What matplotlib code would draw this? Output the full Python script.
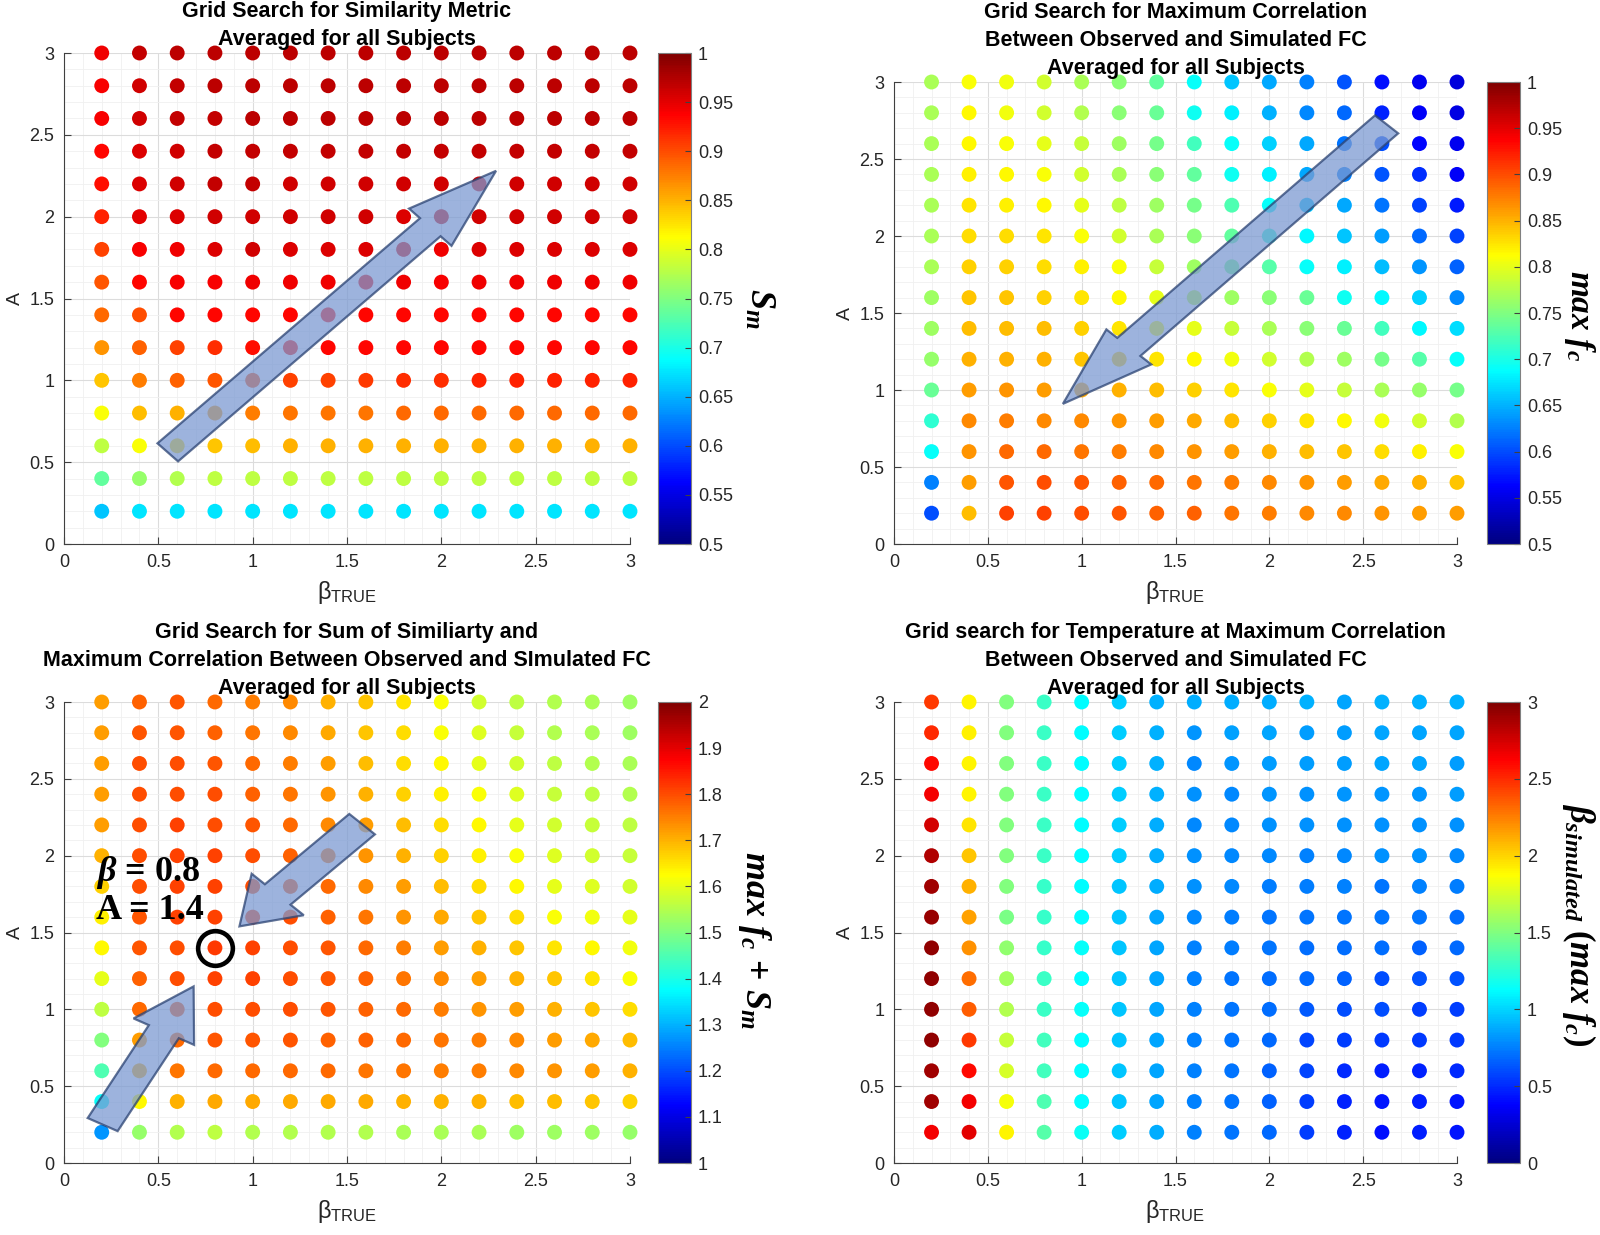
import numpy as np
import matplotlib
matplotlib.use("Agg")
import matplotlib.pyplot as plt
from matplotlib.patches import FancyArrow
from matplotlib.ticker import MultipleLocator, FuncFormatter
from matplotlib.colors import LinearSegmentedColormap

plt.rcParams['font.family'] = ['Liberation Sans', 'DejaVu Sans']
plt.rcParams['mathtext.fontset'] = 'custom'
plt.rcParams['mathtext.rm'] = 'Liberation Sans'
plt.rcParams['mathtext.it'] = 'Liberation Serif:italic:bold'
plt.rcParams['mathtext.bf'] = 'Liberation Serif:bold'

beta_true = [0.2, 0.4, 0.6, 0.8, 1.0, 1.2, 1.4, 1.6, 1.8, 2.0, 2.2, 2.4, 2.6, 2.8, 3.0]
a_vals = [3.0, 2.8, 2.6, 2.4, 2.2, 2.0, 1.8, 1.6, 1.4, 1.2, 1.0, 0.8, 0.6, 0.4, 0.2]  # rows top -> bottom

# similarity metric S_m
sim_metric = [
    [0.945, 0.965, 0.97, 0.97, 0.97, 0.97, 0.97, 0.97, 0.97, 0.97, 0.97, 0.97, 0.97, 0.97, 0.97],
    [0.94, 0.96, 0.965, 0.97, 0.97, 0.97, 0.97, 0.97, 0.97, 0.97, 0.97, 0.97, 0.97, 0.97, 0.97],
    [0.94, 0.96, 0.965, 0.965, 0.97, 0.97, 0.97, 0.97, 0.97, 0.97, 0.97, 0.97, 0.97, 0.97, 0.97],
    [0.935, 0.955, 0.96, 0.965, 0.965, 0.965, 0.965, 0.965, 0.965, 0.965, 0.965, 0.965, 0.965, 0.965, 0.965],
    [0.93, 0.955, 0.96, 0.965, 0.965, 0.96, 0.96, 0.96, 0.96, 0.96, 0.96, 0.96, 0.96, 0.96, 0.96],
    [0.92, 0.95, 0.955, 0.96, 0.96, 0.96, 0.96, 0.96, 0.955, 0.96, 0.96, 0.96, 0.96, 0.96, 0.96],
    [0.905, 0.94, 0.945, 0.955, 0.96, 0.955, 0.955, 0.955, 0.955, 0.945, 0.955, 0.955, 0.955, 0.955, 0.955],
    [0.895, 0.935, 0.94, 0.94, 0.945, 0.945, 0.945, 0.945, 0.945, 0.94, 0.945, 0.945, 0.945, 0.945, 0.945],
    [0.885, 0.9, 0.935, 0.935, 0.935, 0.935, 0.935, 0.935, 0.935, 0.935, 0.935, 0.935, 0.935, 0.935, 0.935],
    [0.865, 0.89, 0.905, 0.915, 0.93, 0.93, 0.935, 0.935, 0.935, 0.935, 0.935, 0.935, 0.935, 0.935, 0.935],
    [0.84, 0.875, 0.89, 0.895, 0.9, 0.905, 0.905, 0.91, 0.915, 0.915, 0.92, 0.92, 0.92, 0.92, 0.92],
    [0.81, 0.845, 0.85, 0.86, 0.875, 0.88, 0.88, 0.88, 0.885, 0.885, 0.885, 0.885, 0.885, 0.885, 0.885],
    [0.78, 0.81, 0.83, 0.84, 0.845, 0.85, 0.85, 0.85, 0.85, 0.85, 0.85, 0.85, 0.85, 0.85, 0.85],
    [0.735, 0.76, 0.775, 0.78, 0.78, 0.78, 0.78, 0.78, 0.78, 0.78, 0.78, 0.78, 0.78, 0.78, 0.78],
    [0.66, 0.675, 0.675, 0.675, 0.675, 0.675, 0.675, 0.675, 0.675, 0.675, 0.675, 0.675, 0.675, 0.675, 0.675],
]

# maximum correlation max f_c
max_corr = [
    [0.77, 0.81, 0.805, 0.79, 0.77, 0.755, 0.735, 0.69, 0.66, 0.645, 0.625, 0.605, 0.57, 0.555, 0.545],
    [0.77, 0.815, 0.805, 0.79, 0.775, 0.755, 0.74, 0.695, 0.68, 0.65, 0.63, 0.615, 0.58, 0.56, 0.55],
    [0.77, 0.815, 0.81, 0.8, 0.785, 0.765, 0.745, 0.72, 0.69, 0.665, 0.645, 0.62, 0.6, 0.565, 0.555],
    [0.77, 0.82, 0.815, 0.81, 0.79, 0.77, 0.755, 0.735, 0.695, 0.68, 0.645, 0.625, 0.605, 0.585, 0.56],
    [0.77, 0.825, 0.82, 0.815, 0.8, 0.78, 0.765, 0.745, 0.725, 0.69, 0.66, 0.645, 0.62, 0.595, 0.575],
    [0.77, 0.83, 0.83, 0.825, 0.81, 0.79, 0.77, 0.755, 0.735, 0.71, 0.685, 0.66, 0.64, 0.615, 0.595],
    [0.77, 0.835, 0.835, 0.83, 0.82, 0.81, 0.785, 0.765, 0.745, 0.73, 0.69, 0.68, 0.655, 0.635, 0.61],
    [0.765, 0.84, 0.84, 0.835, 0.825, 0.815, 0.8, 0.78, 0.765, 0.755, 0.74, 0.695, 0.685, 0.665, 0.63],
    [0.765, 0.845, 0.845, 0.845, 0.835, 0.825, 0.81, 0.8, 0.785, 0.77, 0.755, 0.74, 0.72, 0.685, 0.67],
    [0.76, 0.85, 0.85, 0.85, 0.84, 0.835, 0.825, 0.815, 0.805, 0.79, 0.775, 0.765, 0.745, 0.73, 0.69],
    [0.74, 0.86, 0.865, 0.86, 0.855, 0.85, 0.845, 0.835, 0.825, 0.81, 0.8, 0.785, 0.77, 0.76, 0.745],
    [0.71, 0.87, 0.875, 0.87, 0.87, 0.865, 0.86, 0.855, 0.845, 0.835, 0.825, 0.815, 0.805, 0.79, 0.775],
    [0.69, 0.865, 0.885, 0.885, 0.88, 0.875, 0.87, 0.865, 0.86, 0.85, 0.845, 0.84, 0.83, 0.82, 0.81],
    [0.625, 0.86, 0.895, 0.9, 0.895, 0.89, 0.885, 0.88, 0.875, 0.87, 0.865, 0.86, 0.855, 0.85, 0.84],
    [0.6, 0.845, 0.905, 0.905, 0.9, 0.895, 0.89, 0.89, 0.88, 0.875, 0.87, 0.87, 0.865, 0.86, 0.86],
]

# sum max f_c + S_m
sum_metric = [
    [1.72, 1.78, 1.79, 1.77, 1.75, 1.74, 1.7, 1.68, 1.65, 1.62, 1.58, 1.56, 1.55, 1.54, 1.53],
    [1.72, 1.79, 1.79, 1.78, 1.76, 1.74, 1.71, 1.68, 1.66, 1.62, 1.59, 1.57, 1.55, 1.54, 1.53],
    [1.72, 1.8, 1.8, 1.79, 1.77, 1.75, 1.72, 1.69, 1.66, 1.63, 1.6, 1.58, 1.56, 1.55, 1.54],
    [1.72, 1.8, 1.8, 1.8, 1.78, 1.76, 1.73, 1.7, 1.67, 1.64, 1.62, 1.59, 1.57, 1.56, 1.55],
    [1.72, 1.8, 1.81, 1.8, 1.79, 1.77, 1.74, 1.72, 1.69, 1.66, 1.63, 1.6, 1.58, 1.57, 1.56],
    [1.7, 1.8, 1.81, 1.81, 1.8, 1.78, 1.76, 1.73, 1.7, 1.67, 1.64, 1.62, 1.59, 1.58, 1.57],
    [1.67, 1.8, 1.81, 1.81, 1.8, 1.79, 1.77, 1.74, 1.72, 1.69, 1.66, 1.63, 1.6, 1.59, 1.58],
    [1.64, 1.79, 1.81, 1.81, 1.81, 1.8, 1.78, 1.76, 1.73, 1.71, 1.68, 1.66, 1.62, 1.61, 1.6],
    [1.63, 1.79, 1.8, 1.82, 1.81, 1.8, 1.79, 1.77, 1.75, 1.72, 1.7, 1.68, 1.65, 1.63, 1.61],
    [1.6, 1.78, 1.8, 1.81, 1.81, 1.8, 1.79, 1.78, 1.76, 1.74, 1.72, 1.7, 1.68, 1.65, 1.62],
    [1.56, 1.77, 1.79, 1.8, 1.8, 1.8, 1.79, 1.78, 1.77, 1.75, 1.73, 1.72, 1.7, 1.68, 1.66],
    [1.5, 1.72, 1.77, 1.79, 1.79, 1.79, 1.78, 1.78, 1.77, 1.76, 1.75, 1.74, 1.72, 1.71, 1.69],
    [1.45, 1.7, 1.76, 1.77, 1.77, 1.77, 1.77, 1.76, 1.76, 1.75, 1.75, 1.74, 1.73, 1.72, 1.7],
    [1.38, 1.63, 1.7, 1.71, 1.71, 1.71, 1.71, 1.71, 1.7, 1.7, 1.7, 1.69, 1.69, 1.68, 1.67],
    [1.27, 1.52, 1.55, 1.56, 1.55, 1.55, 1.55, 1.55, 1.54, 1.54, 1.54, 1.53, 1.53, 1.53, 1.52],
]

# beta simulated at max f_c
beta_sim = [
    [2.45, 1.9, 1.5, 1.3, 1.12, 0.98, 0.9, 0.88, 0.88, 0.88, 0.9, 0.86, 0.9, 0.9, 0.9],
    [2.5, 1.92, 1.5, 1.3, 1.12, 0.98, 0.9, 0.82, 0.85, 0.86, 0.84, 0.84, 0.86, 0.86, 0.86],
    [2.6, 1.9, 1.5, 1.3, 1.12, 0.98, 0.9, 0.78, 0.82, 0.84, 0.84, 0.84, 0.86, 0.86, 0.84],
    [2.65, 1.9, 1.5, 1.3, 1.12, 0.98, 0.9, 0.8, 0.78, 0.82, 0.8, 0.82, 0.82, 0.82, 0.84],
    [2.75, 1.95, 1.5, 1.3, 1.12, 0.98, 0.88, 0.78, 0.78, 0.8, 0.8, 0.8, 0.8, 0.8, 0.8],
    [2.85, 2.05, 1.5, 1.3, 1.12, 0.98, 0.88, 0.8, 0.78, 0.78, 0.76, 0.78, 0.8, 0.8, 0.78],
    [2.9, 2.1, 1.5, 1.28, 1.12, 0.96, 0.88, 0.8, 0.78, 0.74, 0.74, 0.76, 0.72, 0.76, 0.74],
    [2.92, 2.15, 1.48, 1.28, 1.12, 0.96, 0.86, 0.78, 0.74, 0.72, 0.72, 0.72, 0.72, 0.72, 0.7],
    [2.95, 2.2, 1.55, 1.28, 1.14, 0.96, 0.86, 0.76, 0.74, 0.72, 0.7, 0.7, 0.7, 0.66, 0.68],
    [2.95, 2.3, 1.6, 1.3, 1.12, 0.96, 0.86, 0.76, 0.72, 0.7, 0.68, 0.66, 0.6, 0.62, 0.62],
    [2.95, 2.35, 1.65, 1.3, 1.14, 0.96, 0.86, 0.76, 0.72, 0.7, 0.64, 0.6, 0.6, 0.56, 0.56],
    [2.95, 2.45, 1.7, 1.32, 1.12, 0.96, 0.86, 0.76, 0.72, 0.68, 0.58, 0.56, 0.54, 0.55, 0.55],
    [2.9, 2.6, 1.75, 1.32, 1.12, 0.96, 0.86, 0.76, 0.72, 0.66, 0.58, 0.5, 0.46, 0.48, 0.5],
    [2.9, 2.65, 1.85, 1.35, 1.12, 0.96, 0.86, 0.76, 0.72, 0.66, 0.56, 0.48, 0.44, 0.46, 0.44],
    [2.65, 2.7, 1.9, 1.38, 1.15, 0.98, 0.88, 0.76, 0.72, 0.68, 0.56, 0.48, 0.42, 0.46, 0.44],
]

titles = [
    "Grid Search for Similarity Metric\nAveraged for all Subjects",
    "Grid Search for Maximum Correlation\nBetween Observed and Simulated FC\nAveraged for all Subjects",
    "Grid Search for Sum of Similiarty and\nMaximum Correlation Between Observed and SImulated FC\nAveraged for all Subjects",
    "Grid search for Temperature at Maximum Correlation\nBetween Observed and Simulated FC\nAveraged for all Subjects",
]
cbar_labels = [r'$S_m$', r'$max\ f_c$', r'$max\ f_c\ \mathbf{+}\ S_m$',
               r'$\beta_{simulated}\ \mathbf{(}max\ f_c\mathbf{)}$']
limits = [(0.5, 1.0), (0.5, 1.0), (1.0, 2.0), (0.0, 3.0)]
cbar_ticks = [np.arange(0.5, 1.001, 0.05), np.arange(0.5, 1.001, 0.05),
              np.arange(1.0, 2.001, 0.1), np.arange(0.0, 3.001, 0.5)]

# MATLAB-style jet
jet_m = LinearSegmentedColormap.from_list('jet_matlab', [
    (0.0, (0, 0, 0.5)), (1 / 8, (0, 0, 1)), (3 / 8, (0, 1, 1)),
    (5 / 8, (1, 1, 0)), (7 / 8, (1, 0, 0)), (1.0, (0.5, 0, 0))], N=256)

W, H = 1600, 1235
fig = plt.figure(figsize=(16, 12.35), dpi=100)

# axes rect px (left, top, right, bottom), colorbar left px, colorbar label centre (x, y) px
layout = [
    ((64, 53, 630, 544), 658, (760, 308)),
    ((894, 82, 1457, 544), 1487, (1580, 316)),
    ((64, 702, 630, 1163), 658, (755, 940)),
    ((894, 702, 1457, 1163), 1487, (1579, 925)),
]
label_sizes = [26, 24, 26, 25]

BB, AA = np.meshgrid(beta_true, a_vals)
panels = [sim_metric, max_corr, sum_metric, beta_sim]
fmt = FuncFormatter(lambda v, p: f"{v:g}")
axes = []
for k, vals in enumerate(panels):
    (l, t, r, b), cl, (lx, ly) = layout[k]
    ax = fig.add_axes([l / W, 1 - b / H, (r - l) / W, (b - t) / H])
    cax = fig.add_axes([cl / W, 1 - b / H, 33 / W, (b - t) / H])
    vmin, vmax = limits[k]
    sc = ax.scatter(BB.ravel(), AA.ravel(), c=np.array(vals).ravel(), cmap=jet_m,
                    vmin=vmin, vmax=vmax, s=115, linewidths=0, clip_on=False, zorder=3)
    ax.set_xlim(0, 3)
    ax.set_ylim(0, 3)
    ax.xaxis.set_major_locator(MultipleLocator(0.5))
    ax.yaxis.set_major_locator(MultipleLocator(0.5))
    ax.xaxis.set_minor_locator(MultipleLocator(0.1))
    ax.yaxis.set_minor_locator(MultipleLocator(0.1))
    ax.xaxis.set_major_formatter(fmt)
    ax.yaxis.set_major_formatter(fmt)
    ax.grid(True, which='major', color='#dcdcdc', lw=0.8)
    ax.grid(True, which='minor', color='#f0f0f0', lw=0.6)
    ax.set_axisbelow(True)
    for s in ['top', 'right']:
        ax.spines[s].set_visible(False)
    for s in ['left', 'bottom']:
        ax.spines[s].set_color('#404040')
    ax.tick_params(which='major', direction='in', length=5, labelsize=13,
                   colors='#404040', labelcolor='#262626', pad=7)
    ax.tick_params(which='minor', length=0)
    ax.set_xlabel(r'$\mathrm{\beta_{TRUE}}$', fontsize=17, color='#262626', labelpad=6)
    ax.set_ylabel('A', fontsize=14, color='#262626', labelpad=4)
    ax.set_title(titles[k], fontsize=15.5, fontweight='bold', pad=6, linespacing=1.42)

    cb = fig.colorbar(sc, cax=cax)
    cb.set_ticks(cbar_ticks[k])
    cb.set_ticklabels([f"{v:g}" for v in cbar_ticks[k]])
    cb.outline.set_edgecolor('#808080')
    cb.outline.set_linewidth(0.8)
    cax.tick_params(direction='in', length=4, labelsize=13, colors='#404040',
                    labelcolor='#262626', pad=5)
    fig.text(lx / W, 1 - ly / H, cbar_labels[k], fontsize=label_sizes[k], rotation=270,
             ha='center', va='center')
    axes.append(ax)

arrow_kw = dict(facecolor='#7C9AD2', edgecolor='#2A4272', alpha=0.75, lw=1.6,
                length_includes_head=True, zorder=5, clip_on=False)
# arrows: tail x, tail y, dx, dy
axes[0].add_patch(FancyArrow(0.55, 0.56, 1.74, 1.72, width=0.155, head_width=0.32,
                             head_length=0.49, **arrow_kw))
axes[1].add_patch(FancyArrow(2.625, 2.725, -1.725, -1.815, width=0.17, head_width=0.33,
                             head_length=0.51, **arrow_kw))
axes[2].add_patch(FancyArrow(1.58, 2.205, -0.65, -0.665, width=0.19, head_width=0.386,
                             head_length=0.29, **arrow_kw))
axes[2].add_patch(FancyArrow(0.205, 0.25, 0.482, 0.899, width=0.18, head_width=0.364,
                             head_length=0.334, **arrow_kw))

best_beta, best_a = 0.8, 1.4
axes[2].plot([best_beta], [best_a], marker='o', markersize=25, markerfacecolor='none',
             markeredgecolor='black', markeredgewidth=3.3, zorder=6)
axes[2].text(0.17, 1.89, r'$\beta$ = 0.8', fontsize=26, va='center', ha='left',
             family='Liberation Serif', fontweight='bold', zorder=7)
axes[2].text(0.17, 1.64, 'A = 1.4', fontsize=26, va='center', ha='left',
             family='Liberation Serif', fontweight='bold', zorder=7)

fig.savefig('out.png', dpi=100, facecolor='white')
